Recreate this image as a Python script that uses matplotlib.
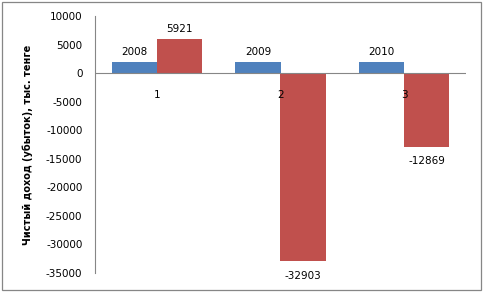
import numpy as np
import matplotlib.pyplot as plt
from matplotlib.patches import Rectangle

plt.rcParams['font.family'] = ['DejaVu Sans']

categories = ['1', '2', '3']
years = [2008, 2009, 2010]
income = [5921, -32903, -12869]
ylabel = 'Чистый доход (убыток), тыс. тенге'

blue = '#4f81bd'
red = '#c0504d'

fig = plt.figure(figsize=(4.83, 2.92), dpi=100)
ax = fig.add_axes([95 / 483, 1 - 273 / 292, 371 / 483, 257 / 292])

x = np.arange(len(categories))
w = 0.364
ax.bar(x - w / 2, years, w, color=blue)
ax.bar(x + w / 2, income, w, color=red)

ax.set_xlim(-0.5, 2.5)
ax.set_ylim(-35000, 10000)
ax.set_yticks(np.arange(-35000, 10001, 5000))
ax.set_yticklabels([str(v) for v in range(-35000, 10001, 5000)], fontsize=7.5)
ax.tick_params(axis='y', length=0, pad=9)
ax.set_xticks([])

for s in ['top', 'right', 'bottom']:
    ax.spines[s].set_visible(False)
ax.spines['left'].set_color('#868686')
ax.axhline(0, color='#868686', lw=0.8)

for xi, v in zip(x, years):
    ax.annotate(str(v), (xi - w / 2, v), xytext=(0, 3), textcoords='offset points',
                ha='center', va='bottom', fontsize=7.5)
for xi, v in zip(x, income):
    off = 4 if v > 0 else -7
    ax.annotate(str(v), (xi + w / 2, v), xytext=(0, off), textcoords='offset points',
                ha='center', va='bottom' if v > 0 else 'top', fontsize=7.5)
for xi, c in zip(x, categories):
    ax.annotate(c, (xi, 0), xytext=(0, -16), textcoords='offset points',
                ha='center', va='center', fontsize=7.5)

fig.text(28 / 483, 1 - 145 / 292, ylabel, rotation=90, ha='center', va='center',
         fontsize=7, fontweight='bold')

fig.patches.append(Rectangle((1.5 / 483, 1 - 289.5 / 292), 479 / 483, 288 / 292,
                             transform=fig.transFigure, fill=False,
                             edgecolor='#868686', lw=0.9))

fig.savefig('out.png', dpi=100)
